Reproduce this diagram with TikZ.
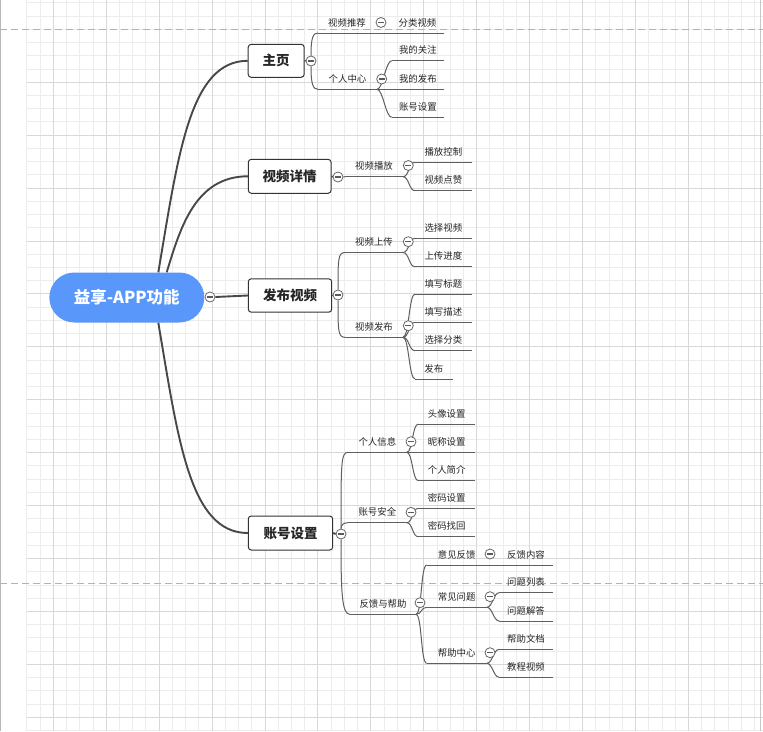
\documentclass[tikz,border=0pt]{standalone}
\usepackage{fontspec}
\setmainfont{Noto Sans CJK SC}
\usetikzlibrary{calc}
\definecolor{rootblue}{RGB}{89,151,250}
\definecolor{gridminor}{RGB}{236,236,236}
\definecolor{gridmajor}{RGB}{216,216,216}
\definecolor{trunkcol}{RGB}{72,72,72}
\definecolor{twigcol}{RGB}{95,95,95}
\newcommand{\mmlabel}[5]{%
  \coordinate (#1-s) at (#2,#4);
  \coordinate (#1-e) at (#3,#4);
  \node[leaf] (#1) at ({(#2+#3)/2},{#4-10.5}) {#5};
  \draw[uline] (#1-s) -- (#1-e);
}
\tikzset{
  gminor/.style={draw=gridminor, line width=1pt},
  gmajor/.style={draw=gridmajor, line width=1pt},
  pagebreak/.style={draw=black!30, line width=1pt, dash pattern=on 7pt off 4pt},
  rootnode/.style={fill=rootblue, rounded corners=25pt, minimum width=155pt, minimum height=50pt, inner sep=0pt, text=white, font=\fontsize{16.5}{19}\selectfont\bfseries},
  mainbox/.style={draw=black!80, line width=1pt, rounded corners=3pt, fill=white, inner sep=0pt, text=black!85, font=\fontsize{13.5}{16}\selectfont\bfseries},
  leaf/.style={inner sep=0pt, text=black!85, font=\fontsize{9.4}{11}\selectfont},
  uline/.style={draw=twigcol, line width=1pt},
  trunk/.style={draw=trunkcol, line width=1.9pt},
  twig/.style={draw=twigcol, line width=1pt},
  collapse/.style={circle, draw=black!60, line width=0.8pt, fill=white, minimum size=10pt, inner sep=0pt,
    path picture={\draw[black!65, line width=1.2pt] ([xshift=-3pt]path picture bounding box.center) -- ([xshift=3pt]path picture bounding box.center);}},
}
\begin{document}
\begin{tikzpicture}[x=1pt,y=-1pt]
\useasboundingbox (0,0) rectangle (763,731);
\fill[white] (0,0) rectangle (763,731);
% grid
\foreach \k in {-2,...,53} {\pgfmathsetmacro\gx{53.3+13.233*\k}\draw[gminor] (\gx,0) -- (\gx,731);}
\foreach \k in {-6,...,49} {\pgfmathsetmacro\gy{82.3+13.23*\k}\draw[gminor] (26.7,\gy) -- (763,\gy);}
\foreach \k in {1,...,13} {\pgfmathsetmacro\gx{53.3+52.93*\k-52.93}\draw[gmajor] (\gx,0) -- (\gx,731);}
\foreach \k in {0,...,12} {\pgfmathsetmacro\gy{82.3+52.92*\k}\draw[gmajor] (26.7,\gy) -- (763,\gy);}
\draw[draw=black!28, line width=1.5pt] (0.5,0) -- (0.5,731);
\draw[draw=black!22, line width=1.2pt] (760.8,0) -- (760.8,731);
\draw[pagebreak] (0,29.4) -- (763,29.4);
\draw[pagebreak] (0,583.5) -- (763,583.5);

% root and main boxes
\node[rootnode] (root) at (126.8,297.5) {益享-APP功能};
\node[mainbox, minimum width=56pt, minimum height=33pt] (zy) at (276.2,60.8) {主页};
\node[mainbox, minimum width=82.7pt, minimum height=34pt] (spxq) at (289.7,176.3) {视频详情};
\node[mainbox, minimum width=83.4pt, minimum height=33.4pt] (fbsp) at (290,295.5) {发布视频};
\node[mainbox, minimum width=84.4pt, minimum height=34pt] (zhsz) at (290.5,533) {账号设置};

% labels: name, xs, xe, y, text
\mmlabel{sptj}{318}{376}{33}{视频推荐}
\mmlabel{flsp}{391}{444}{33}{分类视频}
\mmlabel{grzx}{318}{377}{89.3}{个人中心}
\mmlabel{wdgz}{391.7}{444}{60.7}{我的关注}
\mmlabel{wdfb}{391.7}{444}{89.3}{我的发布}
\mmlabel{zhszb}{391.7}{444}{117.3}{账号设置}

\mmlabel{spbf}{345}{403}{176.7}{视频播放}
\mmlabel{bfkz}{415}{471.7}{162.3}{播放控制}
\mmlabel{spdz}{415}{471.7}{190.7}{视频点赞}

\mmlabel{spsc}{345}{403}{252.5}{视频上传}
\mmlabel{xzsp}{415}{471.7}{238.3}{选择视频}
\mmlabel{scjd}{415}{471.7}{266.7}{上传进度}
\mmlabel{spfb}{345}{403}{337.3}{视频发布}
\mmlabel{txbt}{415}{471.7}{294}{填写标题}
\mmlabel{txms}{415}{471.7}{322.3}{填写描述}
\mmlabel{xzfl}{415}{471.7}{350.7}{选择分类}
\mmlabel{fb}{415}{452.7}{379}{发布}

\mmlabel{grxx}{348}{406.7}{452.3}{个人信息}
\mmlabel{txsz}{418.3}{475}{424}{头像设置}
\mmlabel{ncsz}{418.3}{475}{452.3}{昵称设置}
\mmlabel{grjj}{418.3}{475}{480.7}{个人简介}
\mmlabel{zhaq}{348}{406.7}{522.7}{账号安全}
\mmlabel{mmsz}{418.3}{475}{508.3}{密码设置}
\mmlabel{mmzh}{418.3}{475}{536.7}{密码找回}
\mmlabel{fkbz}{350}{416}{614.3}{反馈与帮助}
\mmlabel{yjfk}{426.7}{486.7}{565}{意见反馈}
\mmlabel{fknr}{499.3}{552.7}{565}{反馈内容}
\mmlabel{cjwt}{426.7}{486.7}{607.3}{常见问题}
\mmlabel{wtlb}{499.3}{552.7}{592.7}{问题列表}
\mmlabel{wtjd}{499.3}{552.7}{621}{问题解答}
\mmlabel{bzzx}{426.7}{486.7}{663.3}{帮助中心}
\mmlabel{bzwd}{499.3}{552.7}{649.3}{帮助文档}
\mmlabel{jcsp}{499.3}{552.7}{677.3}{教程视频}

% collapse buttons
\node[collapse] (c-root) at (210,297) {};
\node[collapse] (c-zy) at (311,61) {};
\node[collapse] (c-spxq) at (338,177) {};
\node[collapse] (c-fbsp) at (338,295) {};
\node[collapse] (c-zhsz) at (341,534) {};

% trunk connectors
\draw[trunk] ([xshift=31.5pt]root.north) .. controls +(20,-118) and +(-58,0) .. (zy.west);
\draw[trunk] ([xshift=39.9pt]root.north) .. controls +(13.3,-43.3) and +(-53,0) .. (spxq.west);
\draw[trunk] (c-root.east) -- (fbsp.west);
\draw[trunk] ([xshift=31.5pt]root.south) .. controls +(20,118) and +(-58,0) .. (zhsz.west);
\draw[trunk] (zy.east) -- (c-zy.west);
\draw[trunk] (spxq.east) -- (c-spxq.west);
\draw[trunk] (fbsp.east) -- (c-fbsp.west);
\draw[trunk] (zhsz.east) -- (c-zhsz.west);

% level-2 connectors
\draw[twig] (c-zy.north) .. controls +(0,-18) and +(-5,0) .. (sptj-s);
\draw[twig] (c-zy.south) .. controls +(0,18) and +(-5,0) .. (grzx-s);
\draw[twig] (c-spxq.east) -- (spbf-s);
\draw[twig] (c-fbsp.north) .. controls +(0,-30) and +(-7,0) .. (spsc-s);
\draw[twig] (c-fbsp.south) .. controls +(0,30) and +(-7,0) .. (spfb-s);
\draw[twig] (c-zhsz.north) .. controls +(0,-65) and +(-7,0) .. (grxx-s);
\draw[twig] (c-zhsz.north) .. controls +(0,-4) and +(-4,0) .. (zhaq-s);
\draw[twig] (c-zhsz.south) .. controls +(0,55) and +(-8,0) .. (fkbz-s);

% level-3 connectors
\draw[twig] (sptj-e) -- (flsp-s);
\draw[twig] (grzx-e) .. controls +(6,0) and +(-6,0) .. (wdgz-s);
\draw[twig] (grzx-e) -- (wdfb-s);
\draw[twig] (grzx-e) .. controls +(6,0) and +(-6,0) .. (zhszb-s);
\draw[twig] (spbf-e) .. controls +(6,0) and +(-6,0) .. (bfkz-s);
\draw[twig] (spbf-e) .. controls +(6,0) and +(-6,0) .. (spdz-s);
\draw[twig] (spsc-e) .. controls +(6,0) and +(-6,0) .. (xzsp-s);
\draw[twig] (spsc-e) .. controls +(6,0) and +(-6,0) .. (scjd-s);
\draw[twig] (spfb-e) .. controls +(6,0) and +(-6,0) .. (txbt-s);
\draw[twig] (spfb-e) .. controls +(6,0) and +(-6,0) .. (txms-s);
\draw[twig] (spfb-e) .. controls +(6,0) and +(-6,0) .. (xzfl-s);
\draw[twig] (spfb-e) .. controls +(6,0) and +(-6,0) .. (fb-s);
\draw[twig] (grxx-e) .. controls +(6,0) and +(-6,0) .. (txsz-s);
\draw[twig] (grxx-e) -- (ncsz-s);
\draw[twig] (grxx-e) .. controls +(6,0) and +(-6,0) .. (grjj-s);
\draw[twig] (zhaq-e) .. controls +(6,0) and +(-6,0) .. (mmsz-s);
\draw[twig] (zhaq-e) .. controls +(6,0) and +(-6,0) .. (mmzh-s);
\draw[twig] (fkbz-e) .. controls +(6,0) and +(-6,0) .. (yjfk-s);
\draw[twig] (fkbz-e) .. controls +(6,0) and +(-6,0) .. (cjwt-s);
\draw[twig] (fkbz-e) .. controls +(6,0) and +(-6,0) .. (bzzx-s);
\draw[twig] (yjfk-e) -- (fknr-s);
\draw[twig] (cjwt-e) .. controls +(6,0) and +(-6,0) .. (wtlb-s);
\draw[twig] (cjwt-e) .. controls +(6,0) and +(-6,0) .. (wtjd-s);
\draw[twig] (bzzx-e) .. controls +(6,0) and +(-6,0) .. (bzwd-s);
\draw[twig] (bzzx-e) .. controls +(6,0) and +(-6,0) .. (jcsp-s);

% sub-level collapse buttons
\node[collapse] (c-sptj) at (381,22.5) {};
\node[collapse] (c-grzx) at (381.7,79) {};
\node[collapse] (c-spbf) at (408.3,165.5) {};
\node[collapse] (c-spsc) at (408.3,241.7) {};
\node[collapse] (c-spfb) at (408.3,325.7) {};
\node[collapse] (c-grxx) at (411,441.7) {};
\node[collapse] (c-zhaq) at (411,512.3) {};
\node[collapse] (c-fkbz) at (420,602.7) {};
\node[collapse] (c-yjfk) at (490,554) {};
\node[collapse] (c-cjwt) at (490,596.7) {};
\node[collapse] (c-bzzx) at (490,652.7) {};
\end{tikzpicture}
\end{document}
